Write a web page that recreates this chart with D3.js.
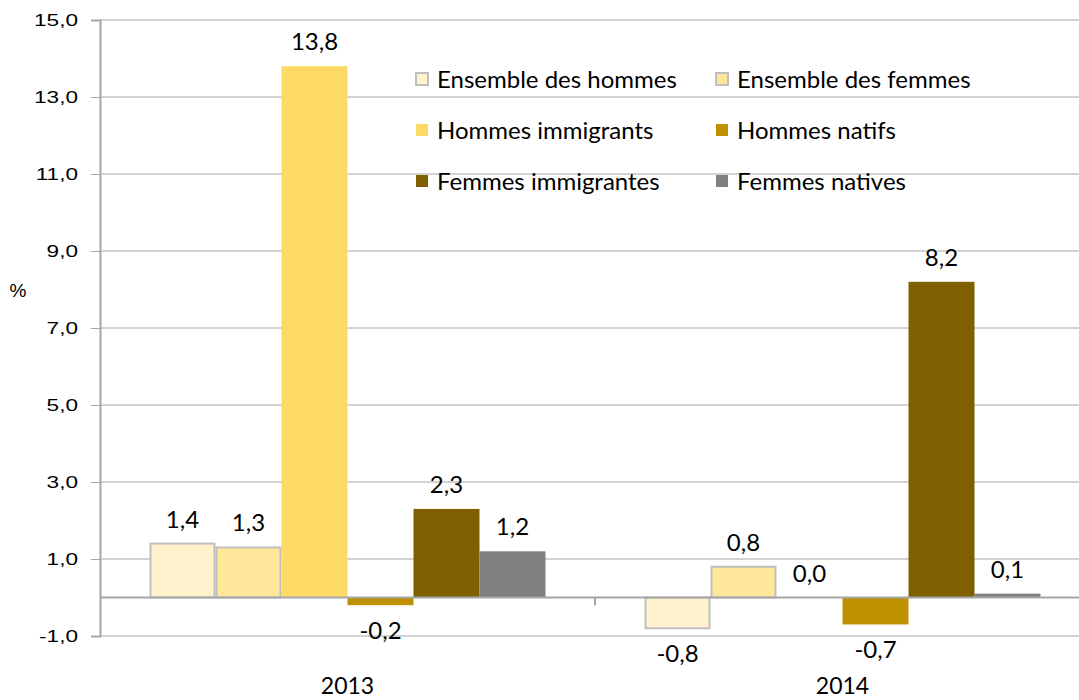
<!DOCTYPE html>
<html>
<head>
<meta charset="utf-8">
<script src="https://cdn.jsdelivr.net/npm/d3@7"></script>
<style>
  body { margin: 0; background: #fff; }
  svg { display: block; }
</style>
</head>
<body>
<svg id="chart" width="1079" height="700"></svg>
<script>
const years = ["2013", "2014"];
const seriesNames = [
  "Ensemble des hommes", "Ensemble des femmes",
  "Hommes immigrants", "Hommes natifs",
  "Femmes immigrantes", "Femmes natives"
];
const values2013 = [1.4, 1.3, 13.8, -0.2, 2.3, 1.2];
const values2014 = [-0.8, 0.8, 0.0, -0.7, 8.2, 0.1];
const yTicks = [-1, 1, 3, 5, 7, 9, 11, 13, 15];

const colors = ["#FFF2CC", "#FFE699", "#FFD966", "#BF9000", "#7F6000", "#808080"];
const strokes = ["#BFBFBF", "#BFBFBF", "none", "none", "none", "none"];

const valuesByYear = { "2013": values2013, "2014": values2014 };
const fmt = v => d3.format(".1f")(v).replace(".", ",").replace("−", "-");

const svg = d3.select("#chart");
const plotLeft = 100, plotRight = 1090, plotTop = 20, plotBottom = 636;
const gridColor = "#A6A6A6";
const calibri = "Lato, 'Open Sans', sans-serif";

const x0 = d3.scaleBand().domain(years).range([plotLeft, plotRight]);
const x1 = d3.scaleBand().domain(d3.range(seriesNames.length))
  .range([0, x0.bandwidth()]).paddingOuter(0.75).paddingInner(0);
const y = d3.scaleLinear().domain([-1, 15]).range([plotBottom, plotTop]);

// gridlines
svg.append("g")
  .selectAll("line")
  .data(yTicks)
  .join("line")
  .attr("x1", plotLeft).attr("x2", 1079)
  .attr("y1", d => y(d)).attr("y2", d => y(d))
  .attr("stroke", gridColor).attr("stroke-width", 1);

// y axis
const yAxis = svg.append("g")
  .attr("transform", `translate(${plotLeft},0)`)
  .call(d3.axisLeft(y).tickValues(yTicks).tickSize(9).tickPadding(13).tickFormat(fmt));
yAxis.select(".domain").attr("stroke", gridColor).attr("stroke-width", 2);
yAxis.selectAll(".tick line").attr("stroke", gridColor);
yAxis.selectAll(".tick text")
  .attr("font-family", "'Liberation Sans', Arial, sans-serif")
  .attr("font-size", 17)
  .attr("fill", "#000")
  .attr("x", -22 / 1.33)
  .attr("transform", "scale(1.33,1)");

// bars
const groups = svg.append("g")
  .selectAll("g")
  .data(years)
  .join("g")
  .attr("transform", d => `translate(${x0(d)},0)`);

groups.selectAll("rect")
  .data(yr => valuesByYear[yr].map((v, i) => ({ v, i })))
  .join("rect")
  .attr("x", d => x1(d.i) + (strokes[d.i] !== "none" ? 1 : 0))
  .attr("width", d => x1.bandwidth() - (strokes[d.i] !== "none" ? 2 : 0))
  .attr("y", d => y(Math.max(0, d.v)))
  .attr("height", d => Math.abs(y(d.v) - y(0)))
  .attr("fill", d => colors[d.i])
  .attr("stroke", d => strokes[d.i])
  .attr("stroke-width", 2);

// zero line and category ticks
svg.append("line")
  .attr("x1", plotLeft).attr("x2", 1079)
  .attr("y1", y(0)).attr("y2", y(0))
  .attr("stroke", gridColor).attr("stroke-width", 2);

svg.append("g")
  .selectAll("line")
  .data(years.slice(1))
  .join("line")
  .attr("x1", d => x0(d)).attr("x2", d => x0(d))
  .attr("y1", y(0)).attr("y2", y(0) + 8)
  .attr("stroke", gridColor).attr("stroke-width", 2);

// data labels
groups.selectAll("text.lbl")
  .data(yr => valuesByYear[yr].map((v, i) => ({ v, i })))
  .join("text")
  .attr("class", "lbl")
  .attr("x", d => x1(d.i) + x1.bandwidth() / 2)
  .attr("y", d => d.v >= 0 ? y(d.v) - 16 : y(d.v) + 34)
  .attr("text-anchor", "middle")
  .attr("font-family", calibri)
  .attr("font-size", 24)
  .attr("fill", "#000")
  .text(d => fmt(d.v));

// category labels
svg.append("g")
  .selectAll("text")
  .data(years)
  .join("text")
  .attr("x", d => x0(d) + x0.bandwidth() / 2)
  .attr("y", 694)
  .attr("text-anchor", "middle")
  .attr("font-family", calibri)
  .attr("font-size", 23)
  .attr("fill", "#000")
  .text(d => d);

// y title
svg.append("text")
  .attr("x", 18).attr("y", 297)
  .attr("text-anchor", "middle")
  .attr("font-family", "'Liberation Sans', Arial, sans-serif")
  .attr("font-size", 19)
  .text("%");

// legend
const legend = svg.append("g")
  .selectAll("g")
  .data(seriesNames)
  .join("g")
  .attr("transform", (d, i) => `translate(${415 + (i % 2) * 300},${79 + Math.floor(i / 2) * 51})`);

legend.append("rect")
  .attr("x", 1).attr("y", -6)
  .attr("width", 12).attr("height", 12)
  .attr("fill", (d, i) => colors[i])
  .attr("stroke", (d, i) => strokes[i])
  .attr("stroke-width", 2);

legend.append("text")
  .attr("x", 22).attr("y", 8.5)
  .attr("font-family", calibri)
  .attr("font-size", 24)
  .attr("fill", "#000")
  .text(d => d);
</script>
</body>
</html>
